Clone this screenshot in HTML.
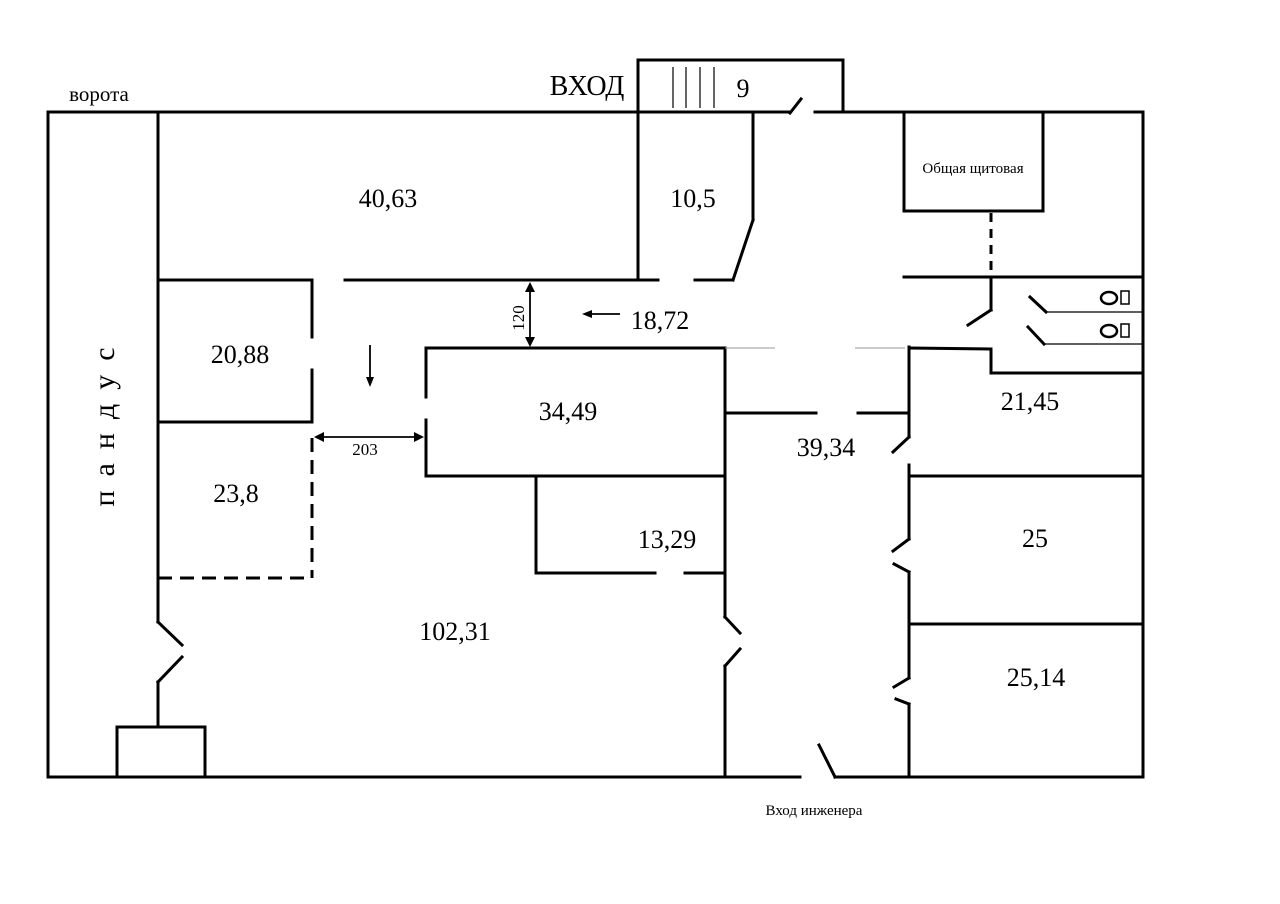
<!DOCTYPE html>
<html><head><meta charset="utf-8"><style>
html,body{margin:0;padding:0;background:#fff;}
svg{display:block;}
text{font-family:"Liberation Serif",serif;fill:#000;}
</style></head><body>
<svg width="1280" height="904" viewBox="0 0 1280 904" xmlns="http://www.w3.org/2000/svg">
<rect width="1280" height="904" fill="#fff"/>
<g stroke="#000" stroke-width="3" fill="none" stroke-linecap="square">
<polyline points="790,112 48,112 48,777 800,777"/>
<polyline points="815,112 843,112"/>
<polyline points="835,777 1143,777 1143,112 843,112"/>
<line x1="790" y1="113" x2="801" y2="99"/>
<line x1="819" y1="745" x2="835" y2="777"/>
<polyline points="638,112 638,60 843,60 843,112"/>
<line x1="158" y1="112" x2="158" y2="622"/>
<line x1="158" y1="622" x2="182" y2="645"/>
<line x1="182" y1="657" x2="158" y2="682"/>
<line x1="158" y1="682" x2="158" y2="727"/>
<rect x="117" y="727" width="88" height="50"/>
<line x1="638" y1="112" x2="638" y2="280"/>
<line x1="753" y1="112" x2="753" y2="220"/>
<line x1="753" y1="220" x2="733" y2="280"/>
<line x1="158" y1="280" x2="312" y2="280"/>
<line x1="345" y1="280" x2="658" y2="280"/>
<line x1="695" y1="280" x2="733" y2="280"/>
<line x1="312" y1="280" x2="312" y2="337"/>
<line x1="312" y1="370" x2="312" y2="422"/>
<line x1="158" y1="422" x2="312" y2="422"/>
<polyline points="426,397 426,348 725,348 725,617"/>
<polyline points="426,420 426,476 725,476"/>
<line x1="725" y1="617" x2="740" y2="633"/>
<line x1="740" y1="649" x2="725" y2="666"/>
<line x1="725" y1="666" x2="725" y2="777"/>
<polyline points="536,476 536,573 655,573"/>
<line x1="685" y1="573" x2="725" y2="573"/>
<line x1="725" y1="413" x2="816" y2="413"/>
<line x1="858" y1="413" x2="909" y2="413"/>
<line x1="909" y1="347" x2="909" y2="437"/>
<line x1="909" y1="437" x2="893" y2="452"/>
<line x1="909" y1="465" x2="909" y2="539"/>
<line x1="909" y1="539" x2="893" y2="551"/>
<line x1="894" y1="564" x2="909" y2="572"/>
<line x1="909" y1="572" x2="909" y2="678"/>
<line x1="909" y1="678" x2="894" y2="687"/>
<line x1="896" y1="699" x2="909" y2="704"/>
<line x1="909" y1="704" x2="909" y2="777"/>
<line x1="909" y1="476" x2="1143" y2="476"/>
<line x1="909" y1="624" x2="1143" y2="624"/>
<polyline points="909,348 991,349 991,373 1143,373"/>
<polyline points="904,113 904,211 1043,211 1043,113"/>
<line x1="904" y1="277" x2="1143" y2="277"/>
<line x1="991" y1="277" x2="991" y2="310"/>
<line x1="991" y1="310" x2="968" y2="325"/>
<line x1="1030" y1="297" x2="1046" y2="312"/>
<line x1="1028" y1="327" x2="1044" y2="344"/>
</g>
<g stroke="#000" stroke-width="3" fill="none">
<line x1="991" y1="213" x2="991" y2="277" stroke-dasharray="9,7"/>
<line x1="312" y1="438" x2="312" y2="578" stroke-dasharray="14,8"/>
<line x1="158" y1="578" x2="312" y2="578" stroke-dasharray="14,8"/>
</g>
<g stroke="#000" stroke-width="1.2" fill="none">
<line x1="1046" y1="312" x2="1143" y2="312"/>
<line x1="1044" y1="344" x2="1143" y2="344"/>
<line x1="673" y1="67" x2="673" y2="108"/>
<line x1="686" y1="67" x2="686" y2="108"/>
<line x1="700" y1="67" x2="700" y2="108"/>
<line x1="714" y1="67" x2="714" y2="108"/>
<ellipse cx="1109" cy="298" rx="8" ry="6" stroke-width="2.5"/>
<rect x="1121" y="291" width="8" height="13" stroke-width="1.5"/>
<ellipse cx="1109" cy="331" rx="8" ry="6" stroke-width="2.5"/>
<rect x="1121" y="324" width="8" height="13" stroke-width="1.5"/>
</g>
<g stroke="#999" stroke-width="1">
<line x1="725" y1="348" x2="775" y2="348"/>
<line x1="855" y1="348" x2="905" y2="348"/>
</g>
<g stroke="#000" stroke-width="1.8" fill="#000">
<line x1="318" y1="437" x2="420" y2="437"/>
<polygon points="314,437 324,432 324,442" stroke="none"/>
<polygon points="424,437 414,432 414,442" stroke="none"/>
<line x1="530" y1="286" x2="530" y2="343"/>
<polygon points="530,282 525,292 535,292" stroke="none"/>
<polygon points="530,347 525,337 535,337" stroke="none"/>
<line x1="588" y1="314" x2="620" y2="314"/>
<polygon points="582,314 592,310 592,318" stroke="none"/>
<line x1="370" y1="345" x2="370" y2="380"/>
<polygon points="370,387 366,377 374,377" stroke="none"/>
</g>
<g font-size="26" text-anchor="middle">
<text x="388" y="207">40,63</text>
<text x="693" y="207">10,5</text>
<text x="660" y="329">18,72</text>
<text x="240" y="363">20,88</text>
<text x="568" y="420">34,49</text>
<text x="236" y="502">23,8</text>
<text x="826" y="456">39,34</text>
<text x="1030" y="410">21,45</text>
<text x="667" y="548">13,29</text>
<text x="1035" y="547">25</text>
<text x="455" y="640">102,31</text>
<text x="1036" y="686">25,14</text>
<text x="743" y="97">9</text>
<text x="587" y="95" font-size="28">ВХОД</text>
</g>
<text x="99" y="101" font-size="21" text-anchor="middle">ворота</text>
<text x="973" y="173" font-size="15" text-anchor="middle">Общая щитовая</text>
<text x="814" y="815" font-size="15" text-anchor="middle">Вход инженера</text>
<text x="365" y="455" font-size="17" text-anchor="middle">203</text>
<text transform="translate(524,318) rotate(-90)" font-size="17" text-anchor="middle">120</text>
<text transform="translate(114,420) rotate(-90)" font-size="30" text-anchor="middle" letter-spacing="14">пандус</text>
</svg>
</body></html>
